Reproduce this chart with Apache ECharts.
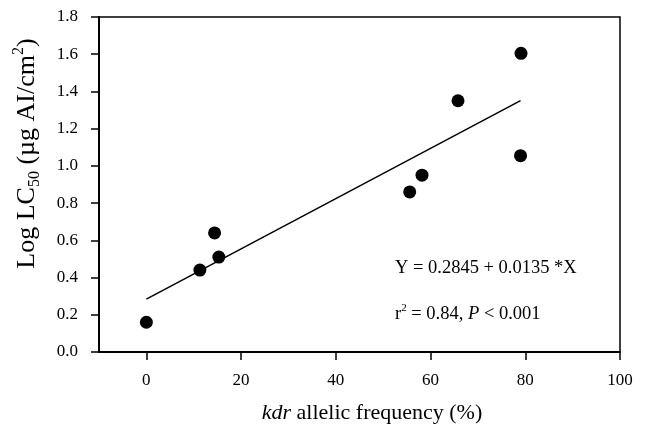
<!DOCTYPE html>
<html>
<head>
<meta charset="utf-8">
<script src="https://cdn.jsdelivr.net/npm/echarts@6/dist/echarts.min.js"></script>
<style>html,body{margin:0;padding:0;background:#fff}#c{width:651px;height:432px}</style>
</head>
<body>
<div id="c"></div>
<script>
var kdrFreq = [0, 11.3, 14.4, 15.3, 55.6, 58.2, 65.8, 79.0, 79.1];
var logLC50 = [0.16, 0.44, 0.64, 0.51, 0.86, 0.95, 1.35, 1.055, 1.605];
var fitX = [0, 79];
var fitY = [0.2845, 1.351];
var xTicks = [0, 20, 40, 60, 80, 100];
var yTicks = [0.0, 0.2, 0.4, 0.6, 0.8, 1.0, 1.2, 1.4, 1.6, 1.8];
var eqText = 'Y = 0.2845 + 0.0135 *X';

var font = 'Liberation Serif';
var chart = echarts.init(document.getElementById('c'), null, {renderer: 'canvas'});
chart.setOption({
  animation: false,
  backgroundColor: '#fff',
  grid: {left: 99, top: 17, right: 31, bottom: 80, show: true, borderColor: '#000', borderWidth: 1.5, backgroundColor: 'transparent'},
  xAxis: {
    type: 'value', min: -10, max: 100,
    axisLine: {show: true, onZero: false, lineStyle: {color: '#000', width: 2}},
    axisTick: {show: true, inside: false, length: 8, lineStyle: {color: '#000', width: 1.5}, customValues: xTicks},
    axisLabel: {color: '#000', fontFamily: font, fontSize: 17, margin: 20, customValues: xTicks},
    splitLine: {show: false},
    name: '{i|kdr} allelic frequency (%)',
    nameLocation: 'middle', nameGap: 50,
    nameTextStyle: {color: '#000', fontFamily: font, fontSize: 22, padding: [0, 0, 0, 25],
      rich: {i: {fontStyle: 'italic', fontFamily: font, fontSize: 22, color: '#000'}}}
  },
  yAxis: {
    type: 'value', min: 0, max: 1.8, interval: 0.2,
    axisLine: {show: true, onZero: false, lineStyle: {color: '#000', width: 2}},
    axisTick: {show: true, inside: false, length: 8, lineStyle: {color: '#000', width: 1.5}},
    axisLabel: {color: '#000', fontFamily: font, fontSize: 17, margin: 21,
      formatter: function (v) { return v.toFixed(1); }},
    splitLine: {show: false},
    name: '{m|Log LC}{sub|50}{m| (µg AI/cm}{sup|2}{m|)}',
    nameLocation: 'middle', nameGap: 56, nameRotate: 90,
    nameTextStyle: {color: '#000', fontFamily: font, fontSize: 26, padding: [0, 0, 0, 62],
      rich: {
        m: {fontFamily: font, fontSize: 26, lineHeight: 32, color: '#000'},
        sub: {fontFamily: font, fontSize: 16, lineHeight: 16, verticalAlign: 'bottom', color: '#000'},
        sup: {fontFamily: font, fontSize: 16, lineHeight: 16, verticalAlign: 'top', color: '#000'}
      }}
  },
  series: [
    {
      type: 'line', data: fitX.map(function (x, i) { return [x, fitY[i]]; }),
      showSymbol: false, symbol: 'none', lineStyle: {color: '#000', width: 1.5}, silent: true, z: 2
    },
    {
      type: 'scatter', data: kdrFreq.map(function (x, i) { return [x, logLC50[i]]; }),
      symbol: 'circle', symbolSize: 13, itemStyle: {color: '#000', opacity: 1}, z: 3
    }
  ],
  graphic: [
    {type: 'text', left: 395, top: 259, style: {text: eqText, fontFamily: font, fontSize: 18.5, fill: '#000'}},
    {type: 'text', left: 395, top: 303, style: {
      text: '{m|r}{sup|2}{m| = 0.84, }{i|P}{m| < 0.001}',
      rich: {
        m: {fontFamily: font, fontSize: 18.5, lineHeight: 22, fill: '#000'},
        i: {fontFamily: font, fontSize: 18.5, lineHeight: 22, fontStyle: 'italic', fill: '#000'},
        sup: {fontFamily: font, fontSize: 11, lineHeight: 11, verticalAlign: 'top', fill: '#000'}
      }}}
  ]
});
</script>
</body>
</html>
